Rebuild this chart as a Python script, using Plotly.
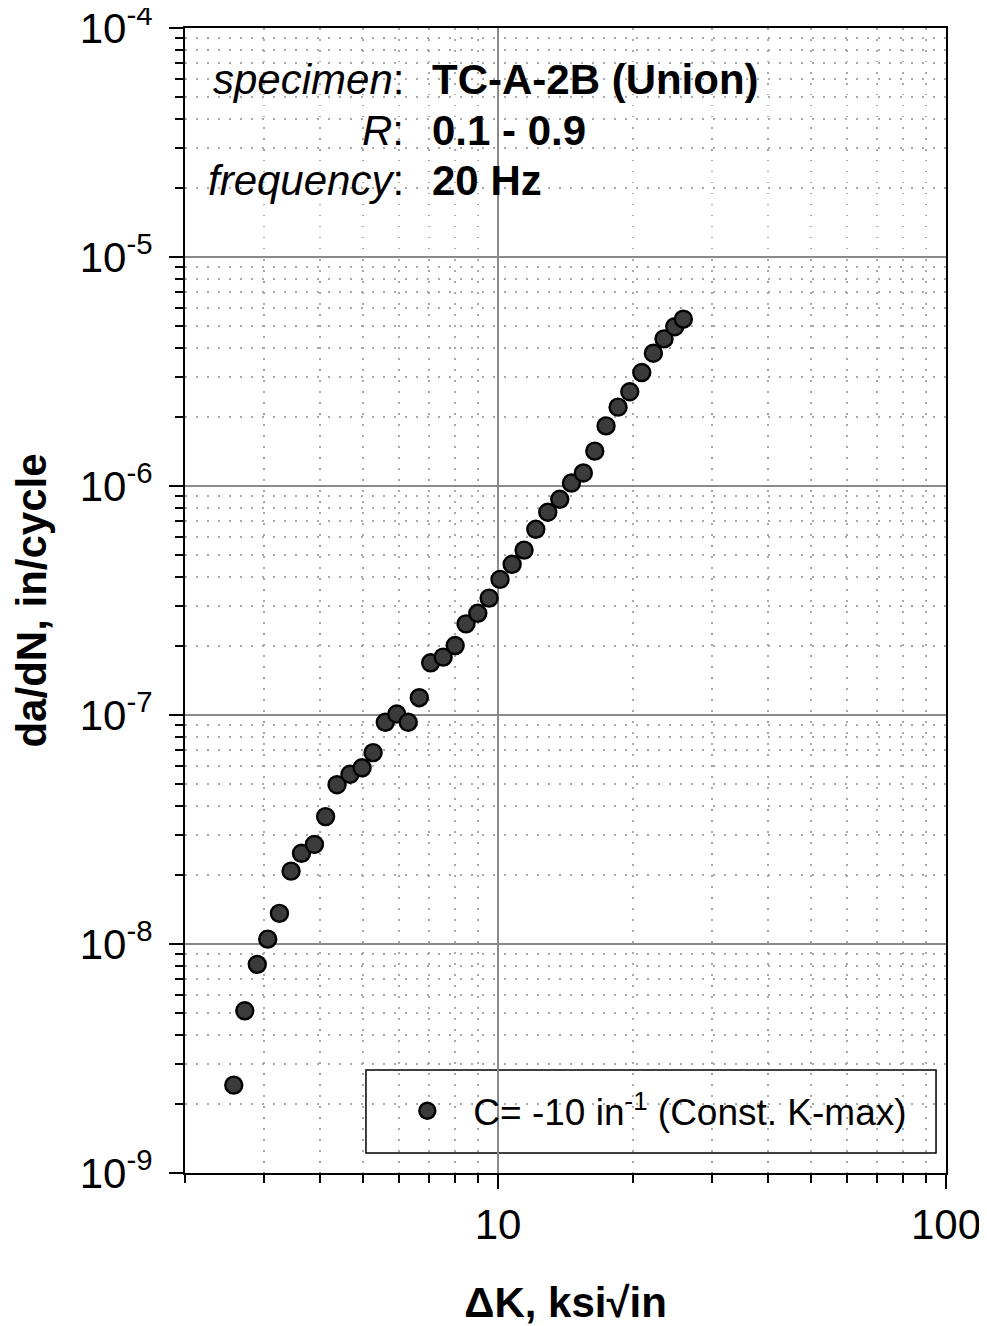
"""
da/dN vs delta K, specimen TC-A-2B (Union)
"""
import plotly.graph_objects as go

# data
delta_k = [2.57, 2.72, 2.90, 3.06, 3.25, 3.45, 3.64, 3.89, 4.12, 4.37,
           4.67, 4.97, 5.26, 5.60, 5.94, 6.30, 6.67, 7.07, 7.54, 8.02,
           8.48, 9.01, 9.55, 10.1, 10.75, 11.43, 12.14, 12.91, 13.73, 14.58,
           15.50, 16.44, 17.42, 18.53, 19.68, 20.93, 22.22, 23.47, 24.80, 25.92]
dadn = [2.42e-9, 5.11e-9, 8.15e-9, 1.05e-8, 1.36e-8, 2.08e-8, 2.49e-8, 2.72e-8, 3.60e-8, 4.96e-8,
        5.51e-8, 5.88e-8, 6.85e-8, 9.29e-8, 1.01e-7, 9.29e-8, 1.19e-7, 1.69e-7, 1.79e-7, 2.01e-7,
        2.50e-7, 2.78e-7, 3.24e-7, 3.91e-7, 4.55e-7, 5.25e-7, 6.47e-7, 7.68e-7, 8.75e-7, 1.03e-6,
        1.14e-6, 1.42e-6, 1.83e-6, 2.21e-6, 2.58e-6, 3.13e-6, 3.80e-6, 4.39e-6, 4.96e-6, 5.35e-6]

series_name = "C= -10 in<sup>-1</sup> (Const. K-max)"

x_tickvals = [10, 100]
x_ticktext = ["10", "100"]
y_tickvals = [1e-9, 1e-8, 1e-7, 1e-6, 1e-5, 1e-4]
y_ticktext = ["10<sup>-9</sup>", "10<sup>-8</sup>", "10<sup>-7</sup>",
              "10<sup>-6</sup>", "10<sup>-5</sup>", "10<sup>-4</sup>"]

info_labels = ["<i>specimen</i>:", "<i>R</i>:", "<i>frequency</i>:"]
info_values = ["<b>TC-A-2B (Union)</b>", "<b>0.1 - 0.9</b>", "<b>20 Hz</b>"]

FONT = "Liberation Sans, Arial, sans-serif"

# minor tick positions (2..9 per decade)
x_minor = [m * 10 ** e for e in range(0, 2) for m in range(2, 10)]
y_minor = [m * 10.0 ** e for e in range(-9, -4) for m in range(2, 10)]

fig = go.Figure()
fig.add_trace(go.Scatter(
    x=delta_k, y=dadn, mode="markers", name=series_name,
    marker=dict(size=17, color="#3b3b3b", line=dict(color="black", width=2.4)),
))

axis_common = dict(
    type="log", showline=True, linecolor="black", linewidth=2, mirror=True,
    ticks="outside", ticklen=14, tickwidth=1.5, tickcolor="black",
    showgrid=True, gridcolor="#8a8a8a", gridwidth=1.5,
    tickfont=dict(family=FONT, size=42, color="black"),
    zeroline=False, automargin=False, ticklabeloverflow="allow",
)
minor_common = dict(ticks="outside", ticklen=8, tickwidth=1.5, tickcolor="black",
                    showgrid=True, gridcolor="#a8a8a8", griddash="1.5px,9.5px", gridwidth=1.5)

fig.update_xaxes(
    **axis_common,
    range=[0.30103, 2],
    tickvals=x_tickvals, ticktext=x_ticktext,
    minor=dict(tickvals=x_minor, **minor_common),
    ticklabelstandoff=0,
    title=dict(text="<b>ΔK, ksi√in</b>", font=dict(family=FONT, size=42, color="black"),
               standoff=42),
)
fig.update_yaxes(
    **axis_common,
    range=[-9, -4],
    tickvals=y_tickvals, ticktext=y_ticktext,
    minor=dict(tickvals=y_minor, **minor_common),
    ticklabelstandoff=8,
    title=dict(text="<b>da/dN, in/cycle</b>", font=dict(family=FONT, size=42, color="black"),
               standoff=24),
)

# info text block
annotations = []
for i, (lab, val) in enumerate(zip(info_labels, info_values)):
    ypos = 0.9546 - i * 0.0437
    annotations.append(dict(xref="paper", yref="paper", x=0.291, y=ypos, text=lab,
                            showarrow=False, xanchor="right", yanchor="middle",
                            font=dict(family=FONT, size=42, color="black")))
    annotations.append(dict(xref="paper", yref="paper", x=0.322, y=ypos, text=val,
                            showarrow=False, xanchor="left", yanchor="middle",
                            font=dict(family=FONT, size=42, color="black")))

# the page body adds an 8px margin, so the figure is 8px smaller than the window
fig.update_layout(
    width=979, height=1318,
    margin=dict(l=177, r=41, t=20, b=153, autoexpand=False),
    paper_bgcolor="white", plot_bgcolor="white",
    annotations=annotations,
    showlegend=True,
    legend=dict(x=0.258, y=0.054, xanchor="left", yanchor="middle",
                bgcolor="rgba(0,0,0,0)", borderwidth=0, itemwidth=82,
                font=dict(family=FONT, size=37, color="black")),
    shapes=[dict(type="rect", xref="paper", yref="paper",
                 x0=0.2378, x1=0.9869, y0=0.0175, y1=0.0900,
                 line=dict(color="black", width=1.5), fillcolor="white", layer="below")],
)

fig.write_html("out.html")
